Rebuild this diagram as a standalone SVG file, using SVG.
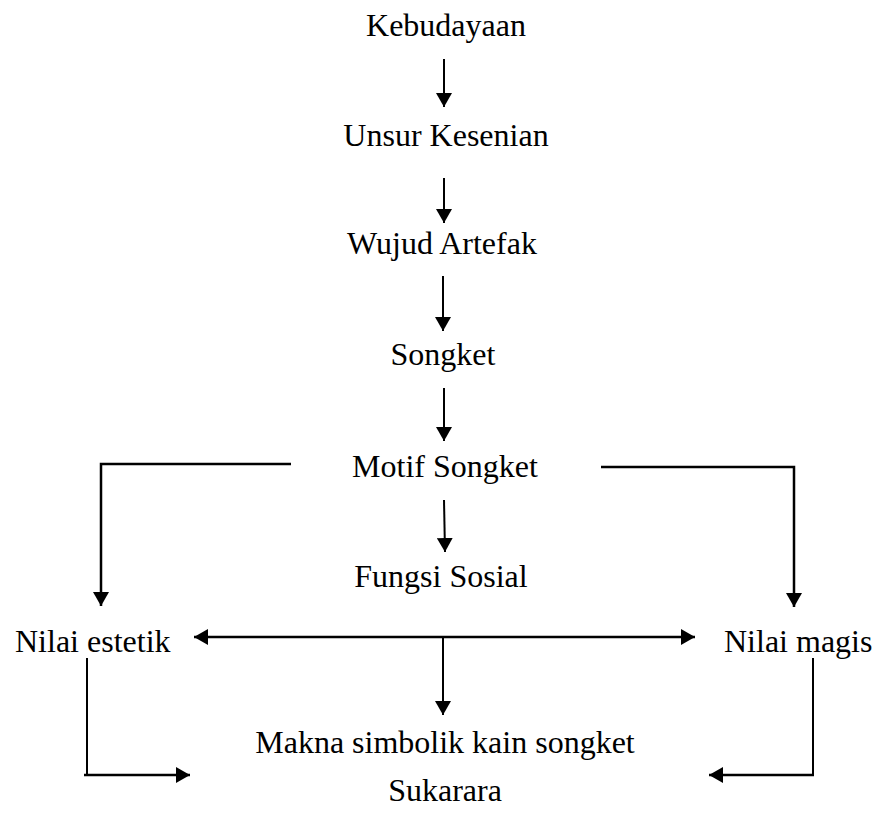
<svg xmlns="http://www.w3.org/2000/svg" width="882" height="813" viewBox="0 0 882 813">
<style>
text{font-family:"Liberation Serif","Times New Roman",serif;font-size:32px;fill:#000}
.c{text-anchor:middle}
.ln{fill:none;stroke:#000;stroke-width:2}
.bk{fill:none;stroke:#000;stroke-width:2.5}
</style>
<defs>
<marker id="ah" viewBox="0 0 14 16" refX="14" refY="8" markerWidth="14" markerHeight="16" markerUnits="userSpaceOnUse" orient="auto-start-reverse">
<path d="M0,0 L14,8 L0,16 Z" fill="#000"/>
</marker>
</defs>
<rect width="882" height="813" fill="#fff"/>
<g id="n-kebudayaan"><text class="c" x="446" y="36">Kebudayaan</text></g>
<g id="n-unsur"><text class="c" x="446" y="146">Unsur Kesenian</text></g>
<g id="n-wujud"><text class="c" x="442" y="254">Wujud Artefak</text></g>
<g id="n-songket"><text class="c" x="443" y="365">Songket</text></g>
<g id="n-motif"><text class="c" x="445" y="477">Motif Songket</text></g>
<g id="n-fungsi"><text class="c" x="441" y="587">Fungsi Sosial</text></g>
<g id="n-estetik"><text x="15" y="652">Nilai estetik</text></g>
<g id="n-magis"><text x="724" y="652">Nilai magis</text></g>
<g id="n-makna"><text class="c" x="445" y="753">Makna simbolik kain songket</text></g>
<g id="n-sukarara"><text class="c" x="445" y="801">Sukarara</text></g>
<g id="connectors">
<line class="ln" x1="444" y1="59" x2="444" y2="107" marker-end="url(#ah)"/>
<line class="ln" x1="444" y1="178" x2="444" y2="223" marker-end="url(#ah)"/>
<line class="ln" x1="443" y1="276" x2="443" y2="331" marker-end="url(#ah)"/>
<line class="ln" x1="444" y1="388" x2="444" y2="441" marker-end="url(#ah)"/>
<line class="ln" x1="444" y1="500" x2="445" y2="552" marker-end="url(#ah)"/>
<polyline class="bk" points="291,464 101,464 101,606" marker-end="url(#ah)"/>
<polyline class="bk" points="601,467 794,467 794,607" marker-end="url(#ah)"/>
<line class="bk" x1="194" y1="637" x2="695" y2="637" marker-start="url(#ah)" marker-end="url(#ah)"/>
<line class="ln" x1="443" y1="637" x2="443" y2="715" marker-end="url(#ah)"/>
<polyline class="ln" points="87,658 87,775" />
<line class="bk" x1="84" y1="775" x2="190" y2="775" marker-end="url(#ah)"/>
<polyline class="ln" points="813,658 813,775"/>
<line class="bk" x1="814" y1="775" x2="709" y2="775" marker-end="url(#ah)"/>
</g>
</svg>
